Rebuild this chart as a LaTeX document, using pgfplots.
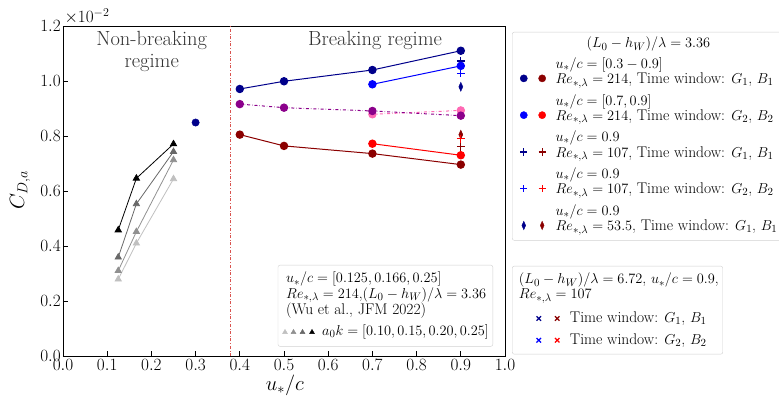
\documentclass[border=0pt]{standalone}
\usepackage{pgfplots}
\pgfplotsset{compat=1.18}
\usetikzlibrary{plotmarks}
\definecolor{navy}{HTML}{00008B}
\definecolor{dred}{HTML}{8B0000}
\definecolor{purp}{HTML}{8B008B}
\definecolor{hpink}{HTML}{FF69B4}
\definecolor{sepcol}{HTML}{D9534F}
\definecolor{ga}{HTML}{C0C0C0}
\definecolor{gb}{HTML}{909090}
\definecolor{gc}{HTML}{686868}
\definecolor{gd}{HTML}{000000}
\newcommand{\lgfont}{\fontsize{15.5bp}{15bp}\selectfont}
\pgfplotsset{
  lgbox/.style={legend style={draw=black!18, rounded corners=2bp, fill=white, font=\lgfont,
      legend cell align=left, inner xsep=4bp, inner ysep=5bp,
      nodes={inner sep=0bp, text depth=, text height=}}},
}
\begin{document}
\begin{tikzpicture}[x=1bp,y=1bp]
\useasboundingbox (-63,-47) rectangle (716,356);
\begin{axis}[
  at={(0,0)}, anchor=south west,
  scale only axis, width=442bp, height=330bp,
  xmin=0, xmax=1, ymin=0, ymax=1.2,
  xtick={0,0.1,0.2,0.3,0.4,0.5,0.6,0.7,0.8,0.9,1.0},
  ytick={0,0.2,0.4,0.6,0.8,1.0,1.2},
  scaled ticks=false,
  /pgf/number format/.cd, fixed, fixed zerofill, precision=1, /pgfplots/.cd,
  tick align=inside, tick pos=left,
  major tick length=5bp,
  tick style={black, line width=0.8bp},
  axis line style={black, line width=0.9bp},
  ticklabel style={font=\fontsize{17.5bp}{17.5bp}\selectfont, inner sep=1bp},
  xticklabel style={yshift=-2bp},
  yticklabel style={xshift=-1bp},
  xlabel={$u_*/c$}, ylabel={$C_{D,a}$},
  every axis x label/.style={at={(axis description cs:0.502,-0.088)},anchor=center,font=\fontsize{21bp}{21bp}\selectfont},
  every axis y label/.style={at={(axis description cs:-0.097,0.503)},rotate=90,anchor=center,font=\fontsize{21bp}{21bp}\selectfont},
  lgbox,
  legend style={at={(axis description cs:1.016,0.982)}, anchor=north west, row sep=6bp, column sep=9.7bp},
  clip=false,
]
% vertical regime separator
\addplot[draw=sepcol, dash dot, line width=1bp, forget plot] coordinates {(0.38,0) (0.38,1.2)};
% Wu et al. triangles
\addplot[ga, line width=0.8bp, mark=triangle*, mark size=3.6bp, forget plot] coordinates {(0.125,0.279) (0.166,0.410) (0.25,0.644)};
\addplot[gb, line width=0.8bp, mark=triangle*, mark size=3.6bp, forget plot] coordinates {(0.125,0.310) (0.166,0.452) (0.25,0.713)};
\addplot[gc, line width=0.8bp, mark=triangle*, mark size=3.6bp, forget plot] coordinates {(0.125,0.359) (0.166,0.553) (0.25,0.743)};
\addplot[gd, line width=0.8bp, mark=triangle*, mark size=3.6bp, forget plot] coordinates {(0.125,0.458) (0.166,0.646) (0.25,0.771)};
% single point
\addplot[navy, only marks, mark=*, mark size=3.7bp, forget plot] coordinates {(0.3,0.849)};
% G series
\addplot[navy, line width=1bp, mark=*, mark size=3.7bp, forget plot] coordinates {(0.4,0.971) (0.5,0.999) (0.7,1.040) (0.9,1.110)};
\addplot[hpink, dash dot, line width=1bp, mark=*, mark size=3.7bp, mark options={solid}, forget plot] coordinates {(0.7,0.879) (0.9,0.893)};
\addplot[purp, dash dot, line width=1bp, mark=*, mark size=3.7bp, mark options={solid}, forget plot] coordinates {(0.4,0.916) (0.5,0.903) (0.7,0.891) (0.9,0.874)};
\addplot[dred, line width=1bp, mark=*, mark size=3.7bp, forget plot] coordinates {(0.4,0.805) (0.5,0.764) (0.7,0.736) (0.9,0.696)};
\addplot[red, line width=1bp, mark=*, mark size=3.7bp, forget plot] coordinates {(0.7,0.772) (0.9,0.730)};
% Re = 53.5 diamonds
\addplot[navy, only marks, mark=diamond*, mark size=4.5bp, mark options={xscale=0.6}, forget plot] coordinates {(0.9,0.979)};
\addplot[dred, only marks, mark=diamond*, mark size=4.5bp, mark options={xscale=0.6}, forget plot] coordinates {(0.9,0.805)};
% Re = 107 plus
\addplot[navy, only marks, mark=+, mark size=4bp, line width=1.3bp, forget plot] coordinates {(0.9,1.073)};
\addplot[blue, only marks, mark=+, mark size=4bp, line width=1.3bp, forget plot] coordinates {(0.9,1.028)};
\addplot[dred, only marks, mark=+, mark size=4bp, line width=1.3bp, forget plot] coordinates {(0.9,0.761)};
\addplot[red, only marks, mark=+, mark size=4bp, line width=1.3bp, forget plot] coordinates {(0.9,0.790)};
\addplot[blue, line width=1bp, mark=*, mark size=3.7bp, forget plot] coordinates {(0.7,0.988) (0.9,1.055)};
% text
\node[font=\fontsize{20.5bp}{22bp}\selectfont, align=center, text=black!80] at (axis cs:0.2007,1.109) {Non-breaking\\regime};
\node[font=\fontsize{20.5bp}{22bp}\selectfont, text=black!80] at (axis cs:0.706,1.149) {Breaking regime};
\node[font=\fontsize{18bp}{18bp}\selectfont, anchor=base west, inner sep=0pt] at (axis description cs:0.003,1.01) {$\times10^{-2}$};
% main legend
\addlegendimage{empty legend}
\addlegendentry{\hspace*{31bp}$(L_0-h_W)/\lambda=3.36$}
\addlegendimage{legend image code/.code={%
    \path (-7.3bp,0) (22bp,0);
    \draw plot[only marks, mark=*, mark size=3.6bp, mark options={fill=navy,draw=navy}] coordinates {(0bp,-5.5bp)};
    \draw plot[only marks, mark=*, mark size=3.6bp, mark options={fill=dred,draw=dred}] coordinates {(18.4bp,-5.5bp)};}}
\addlegendentry{\begin{tabular}{@{}l@{}}$u_*/c=[0.3-0.9]$\\$Re_{*,\lambda}=214$, Time window: $G_1$, $B_1$\end{tabular}}
\addlegendimage{legend image code/.code={%
    \path (-7.3bp,0) (22bp,0);
    \draw plot[only marks, mark=*, mark size=3.6bp, mark options={fill=blue,draw=blue}] coordinates {(0bp,-5.5bp)};
    \draw plot[only marks, mark=*, mark size=3.6bp, mark options={fill=red,draw=red}] coordinates {(18.4bp,-5.5bp)};}}
\addlegendentry{\begin{tabular}{@{}l@{}}$u_*/c=[0.7,0.9]$\\$Re_{*,\lambda}=214$, Time window: $G_2$, $B_2$\end{tabular}}
\addlegendimage{legend image code/.code={%
    \path (-7.3bp,0) (22bp,0);
    \draw plot[only marks, mark=+, mark size=3.6bp, mark options={draw=navy,line width=1.2bp}] coordinates {(0bp,-5.5bp)};
    \draw plot[only marks, mark=+, mark size=3.6bp, mark options={draw=dred,line width=1.2bp}] coordinates {(18.4bp,-5.5bp)};}}
\addlegendentry{\begin{tabular}{@{}l@{}}$u_*/c=0.9$\\$Re_{*,\lambda}=107$, Time window: $G_1$, $B_1$\end{tabular}}
\addlegendimage{legend image code/.code={%
    \path (-7.3bp,0) (22bp,0);
    \draw plot[only marks, mark=+, mark size=3.6bp, mark options={draw=blue,line width=1.2bp}] coordinates {(0bp,-5.5bp)};
    \draw plot[only marks, mark=+, mark size=3.6bp, mark options={draw=red,line width=1.2bp}] coordinates {(18.4bp,-5.5bp)};}}
\addlegendentry{\begin{tabular}{@{}l@{}}$u_*/c=0.9$\\$Re_{*,\lambda}=107$, Time window: $G_2$, $B_2$\end{tabular}}
\addlegendimage{legend image code/.code={%
    \path (-7.3bp,0) (22bp,0);
    \draw plot[only marks, mark=diamond*, mark size=4.2bp, mark options={xscale=0.6,fill=navy,draw=navy}] coordinates {(0bp,-5.5bp)};
    \draw plot[only marks, mark=diamond*, mark size=4.2bp, mark options={xscale=0.6,fill=dred,draw=dred}] coordinates {(18.4bp,-5.5bp)};}}
\addlegendentry{\begin{tabular}{@{}l@{}}$u_*/c=0.9$\\$Re_{*,\lambda}=53.5$, Time window: $G_1$, $B_1$\end{tabular}}
\end{axis}
% second legend (L0-hW)/lambda = 6.72
\begin{axis}[
  at={(0,0)}, anchor=south west,
  scale only axis, width=442bp, height=330bp,
  hide axis, xmin=0, xmax=1, ymin=0, ymax=1,
  lgbox,
  legend style={at={(axis description cs:1.016,0.273)}, anchor=north west, row sep=8bp, column sep=7bp, inner ysep=7bp},
]
\addlegendimage{empty legend}
\addlegendentry{\hspace*{-51bp}\begin{tabular}{@{}l@{}}$(L_0-h_W)/\lambda=6.72$, $u_*/c=0.9$,\\$Re_{*,\lambda}=107$\end{tabular}}
\addlegendimage{legend image code/.code={%
    \path (-22.3bp,0) (24bp,0);
    \draw plot[only marks, mark=x, mark size=3.2bp, mark options={draw=navy,line width=1.2bp}] coordinates {(0bp,0bp)};
    \draw plot[only marks, mark=x, mark size=3.2bp, mark options={draw=dred,line width=1.2bp}] coordinates {(18.4bp,0bp)};}}
\addlegendentry{Time window: $G_1$, $B_1$}
\addlegendimage{legend image code/.code={%
    \path (-22.3bp,0) (24bp,0);
    \draw plot[only marks, mark=x, mark size=3.2bp, mark options={draw=blue,line width=1.2bp}] coordinates {(0bp,0bp)};
    \draw plot[only marks, mark=x, mark size=3.2bp, mark options={draw=red,line width=1.2bp}] coordinates {(18.4bp,0bp)};}}
\addlegendentry{Time window: $G_2$, $B_2$}
\end{axis}
% third legend: Wu et al.
\begin{axis}[
  at={(0,0)}, anchor=south west,
  scale only axis, width=442bp, height=330bp,
  hide axis, xmin=0, xmax=1, ymin=0, ymax=1,
  lgbox,
  legend style={at={(axis description cs:0.486,0.276)}, anchor=north west, row sep=6bp, column sep=7bp, inner ysep=7bp},
]
\addlegendimage{empty legend}
\addlegendentry{\hspace*{-36bp}\begin{tabular}{@{}l@{}}$u_*/c=[0.125,0.166,0.25]$\\$Re_{*,\lambda}=214$,$(L_0-h_W)/\lambda=3.36$\\(Wu et al., JFM 2022)\end{tabular}}
\addlegendimage{legend image code/.code={%
    \path (-2.8bp,0) (30bp,0);
    \draw plot[only marks, mark=triangle*, mark size=2.8bp, mark options={fill=ga,draw=ga}] coordinates {(0bp,0bp)};
    \draw plot[only marks, mark=triangle*, mark size=2.8bp, mark options={fill=gb,draw=gb}] coordinates {(8.5bp,0bp)};
    \draw plot[only marks, mark=triangle*, mark size=2.8bp, mark options={fill=gc,draw=gc}] coordinates {(17.5bp,0bp)};
    \draw plot[only marks, mark=triangle*, mark size=2.8bp, mark options={fill=gd,draw=gd}] coordinates {(27bp,0bp)};}}
\addlegendentry{$a_0k=[0.10,0.15,0.20,0.25]$}
\end{axis}
\end{tikzpicture}
\end{document}
